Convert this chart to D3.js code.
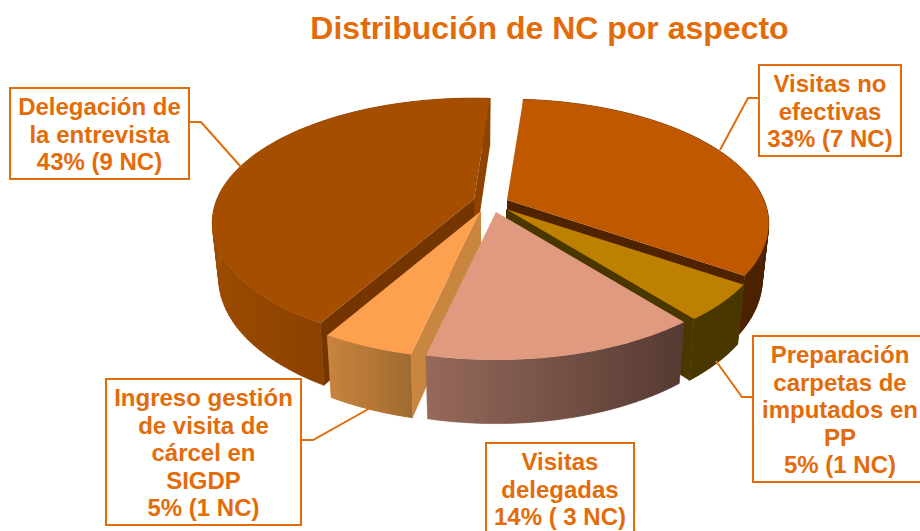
<!DOCTYPE html>
<html><head><meta charset="utf-8">
<script src="https://cdn.jsdelivr.net/npm/d3@7/dist/d3.min.js"></script>
<style>html,body{margin:0;padding:0;background:#fff;overflow:hidden}</style>
</head><body><svg id="c" width="920" height="531"></svg>
<script>
const categories = ["Visitas no efectivas","Preparación carpetas de imputados en PP","Visitas delegadas","Ingreso gestión de visita de cárcel en SIGDP","Delegación de la entrevista"];
const counts = [7,1,3,1,9];
const percents = [33,5,14,5,43];
const labelLines = [
  ["Visitas no","efectivas","33% (7 NC)"],
  ["Preparación","carpetas de","imputados en","PP","5% (1 NC)"],
  ["Visitas","delegadas","14% ( 3 NC)"],
  ["Ingreso gestión","de visita de","cárcel en","SIGDP","5% (1 NC)"],
  ["Delegación de","la entrevista","43% (9 NC)"]
];
const titleText = "Distribución de NC por aspecto";

// layout and style, per slice in the same order as the data
const apexes = [[507,200],[506,209],[496,212],[481,211],[474,199]];
const topColors = ["#c05800","#bd8000","#e09a80","#fda04f","#a54e00"];
const wallStops = [["#5a2800","#4a2100"],["#4a3700","#4a3700"],["#96695a","#553a32"],["#c9843e","#a06a30"],["#9c4b00","#6f3300"]];
// visible cut faces: [side of the slice, colour]
const cutFaces = [[["end","#4f2300"]],[["end","#4a3700"]],[],[["start","#c98640"]],[["end","#8f4300"],["start","#753500"]]];
const boxes = [[759,65,142,91],[753,336,174,146],[486,443,148,95],[106,379,195,146],[10,88,179,91]];
const leaders = [
  [[759,98],[748,98],[720,150]],
  [[753,397],[742,397],[716,361]],
  [],
  [[302,440],[313,440],[372,407]],
  [[189,122],[201,122],[241,167]]
];
const paintOrder = [0,1,4,3,2];
const accent = "#e36c0a";

const R = 257, Rb = 120, k = 0.189, bottomScale = 0.975, D = 56, rot = 4.3*Math.PI/180;
const pieAngles = d3.pie().value(d=>d).sort(null).startAngle(rot).endAngle(rot+2*Math.PI)(counts);

function project(i,a,rad,bottom){
  const u = Math.sin(a)*rad, v = -Math.cos(a)*rad;
  const w = (bottom?bottomScale:1)/(1-k*v);
  const [ax,ay] = apexes[i];
  return [ax+R*u*w, ay+(Rb*v+(bottom?D:0))*w];
}
const line = d3.line();
const svg = d3.select("#c");
const defs = svg.append("defs");
const STEPS = 120;

function arcPts(i,s,e,bottom){
  return d3.range(0,STEPS+1).map(t=>project(i,s+(e-s)*t/STEPS,1,bottom));
}

paintOrder.forEach(i=>{
  const p = pieAngles[i], s = p.startAngle, e = p.endAngle;
  const g = svg.append("g").attr("class","slice");
  // outer wall, swept as narrow strips so its silhouette stays tangent to both rims
  const topArc = arcPts(i,s,e,false), botArc = arcPts(i,s,e,true);
  const xs = topArc.concat(botArc).map(d=>d[0]);
  const id = "wall"+i;
  const lg = defs.append("linearGradient").attr("id",id).attr("gradientUnits","userSpaceOnUse")
    .attr("x1",d3.min(xs)).attr("x2",d3.max(xs)).attr("y1",0).attr("y2",0);
  lg.append("stop").attr("offset",0).attr("stop-color",wallStops[i][0]);
  lg.append("stop").attr("offset",1).attr("stop-color",wallStops[i][1]);
  const strips = d3.range(0,STEPS).map(t=>line([topArc[t],topArc[t+1],botArc[t+1],botArc[t]])+"Z").join("");
  g.append("path").attr("d",strips).attr("fill",`url(#${id})`).attr("fill-rule","nonzero")
    .attr("stroke",`url(#${id})`).attr("stroke-width",0.6);
  // cut faces
  const apexTop = project(i,0,0,false), apexBot = project(i,0,0,true);
  cutFaces[i].forEach(([side,color])=>{
    const a = side==="end" ? e : s;
    g.append("path").attr("d",line([apexTop,project(i,a,1,false),project(i,a,1,true),apexBot])+"Z").attr("fill",color);
  });
  // top face
  g.append("path").attr("d",line([apexTop].concat(topArc))+"Z").attr("fill",topColors[i]);
});

// leaders
svg.append("g").selectAll("path").data(leaders.filter(l=>l.length)).join("path")
  .attr("d",d=>line(d)).attr("fill","none").attr("stroke",accent).attr("stroke-width",2);

// title
svg.append("text").attr("x",549.5).attr("y",39).attr("text-anchor","middle")
  .attr("font-family","Liberation Sans").attr("font-weight","bold").attr("font-size",32)
  .attr("fill",accent).text(titleText);

// boxes
const lh = 27.6;
labelLines.forEach((lines,i)=>{
  const [x,y,w,h] = boxes[i];
  const g = svg.append("g");
  g.append("rect").attr("x",x).attr("y",y).attr("width",w).attr("height",h)
    .attr("fill","#fff").attr("stroke",accent).attr("stroke-width",2);
  g.selectAll("text").data(lines).join("text")
    .attr("x",x+w/2).attr("y",(d,j)=>y+27+j*lh)
    .attr("text-anchor","middle").attr("font-family","Liberation Sans").attr("font-weight","bold")
    .attr("font-size",24).attr("fill",accent).text(d=>d);
});
</script></body></html>
